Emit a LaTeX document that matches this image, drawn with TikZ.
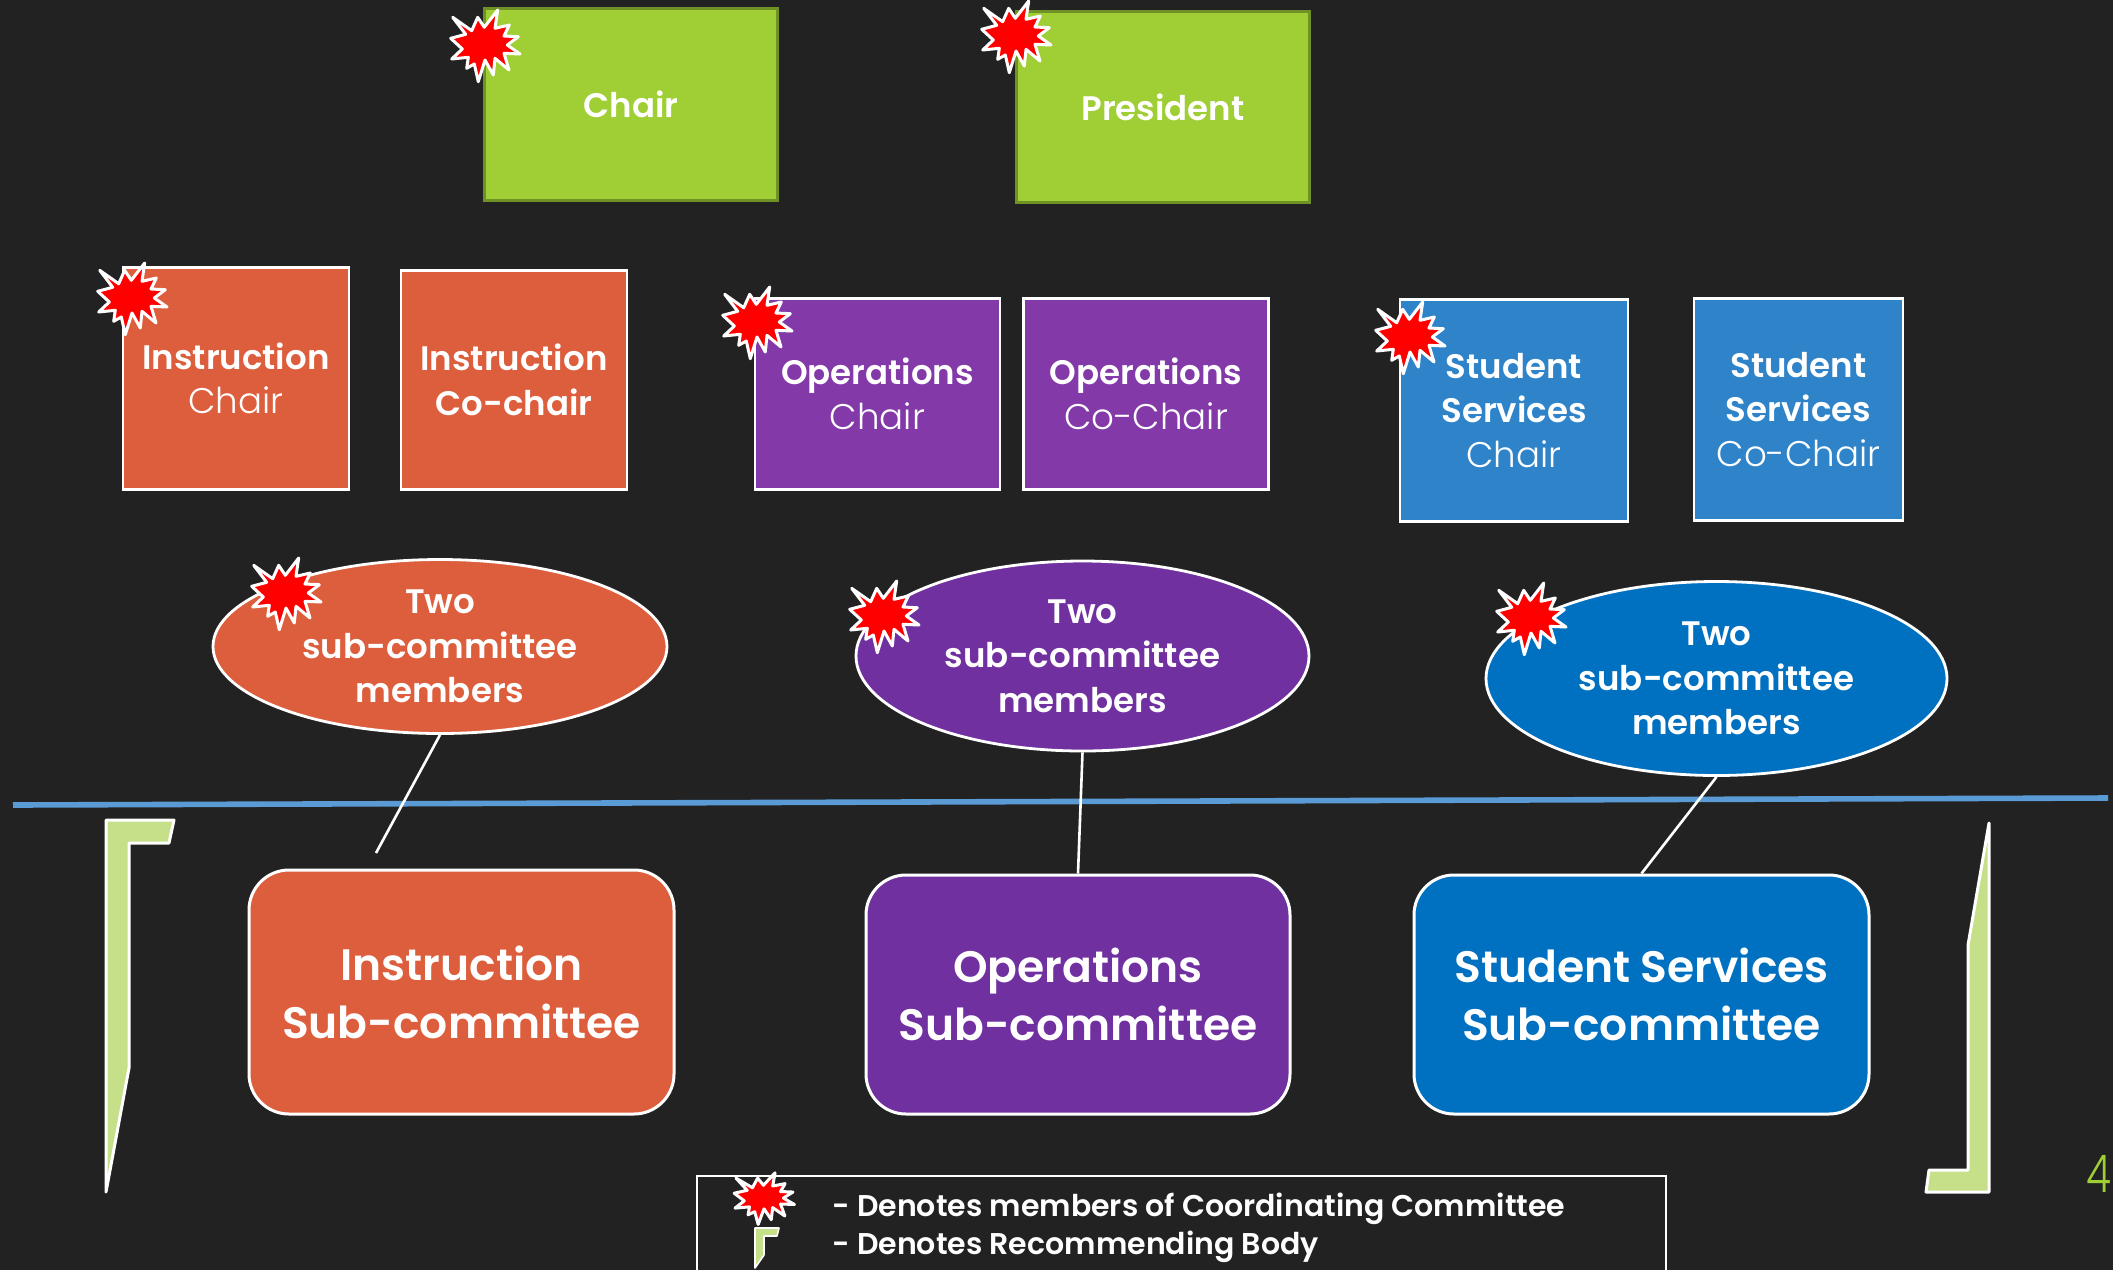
\documentclass[tikz,border=0pt]{standalone}
\usepackage{fontspec}
\setmainfont{Poppins Light}[BoldFont=Poppins SemiBold]
\definecolor{bg}{HTML}{222222}
\definecolor{org}{HTML}{DD5E3D}
\definecolor{purL}{HTML}{833AA8}
\definecolor{purD}{HTML}{7030A0}
\definecolor{bluL}{HTML}{2E83C9}
\definecolor{bluD}{HTML}{0070C0}
\definecolor{grn}{HTML}{A0CE35}
\definecolor{grnD}{HTML}{6F9125}
\definecolor{frameG}{HTML}{C6E08A}
\definecolor{rule}{HTML}{5B9BD5}
\newcommand{\fs}[2]{\fontsize{#1}{#2}\selectfont}
\newcommand{\lite}[1]{{\fontsize{17.8}{22.2}\selectfont #1}}
\tikzset{
  x=0.5pt,y=-0.5pt,
  txt/.style={text=white,align=center,inner sep=0pt,font=\fs{17}{22.2}},
  box/.style={txt,draw=white,line width=1.4pt},
  topbox/.style={txt,draw=grnD,line width=1.5pt,fill=grn,font=\fs{17}{22.2}\bfseries},
  oval/.style={box,ellipse},
  sub/.style={box,line width=1.5pt,rounded corners=20pt,font=\fs{22}{29}\bfseries},
  link/.style={draw=white,line width=1.3pt},
  halfframe/.style={draw=white,line width=1.5pt,fill=frameG,line join=round},
  burst/.style={draw=white,line width=1.5pt,fill=red,line join=round},
  pics/star/.style={code={
    \draw[burst] (12.7,-35)--(10,-16.7)--(24.3,-20)--(19,-9)--(33.3,-8.3)--(22.3,0)--(35,9)--(19,8.3)--(24,25)--(10,13.3)--(8.3,30)--(0,15)--(-6.7,36.7)--(-10.7,19)--(-18.3,23.3)--(-16.7,12.3)--(-33.3,14)--(-22.7,4)--(-34.3,-6.7)--(-19.3,-10.7)--(-32.3,-27.7)--(-13.3,-14.3)--(-7.3,-27.7)--(-.7,-17.7)--cycle;
  }}
}
\usetikzlibrary{shapes.geometric}
\begin{document}
\begin{tikzpicture}
\useasboundingbox (0,0) rectangle (2113,1270);
\clip (0,0) rectangle (2113,1270);
\fill[bg] (0,0) rectangle (2113,1270);

% top boxes
\node[topbox,minimum width=146.5pt,minimum height=96pt] (chair) at (631,104) {Chair};
\node[topbox,minimum width=146.5pt,minimum height=95.5pt] (president) at (1163,107) {President};

% chairs
\node[box,fill=org,minimum width=113pt,minimum height=111pt] (ichair) at (236,378.5) {\textbf{Instruction}\\\lite{Chair}};
\node[box,fill=org,minimum width=113pt,minimum height=109.5pt] (ico) at (514,380) {\textbf{Instruction}\\\textbf{Co-chair}};
\node[box,fill=purL,minimum width=122.5pt,minimum height=95.5pt] (ochair) at (877.5,394) {\textbf{Operations}\\\lite{Chair}};
\node[box,fill=purL,minimum width=122.5pt,minimum height=95.5pt] (oco) at (1146,394) {\textbf{Operations}\\\lite{Co-Chair}};
\node[box,fill=bluL,minimum width=114pt,minimum height=111pt] (schair) at (1514,410.5) {\textbf{Student}\\\textbf{Services}\\\lite{Chair}};
\node[box,fill=bluL,minimum width=104.5pt,minimum height=111pt] (sco) at (1798.5,409.5) {\textbf{Student}\\\textbf{Services}\\\lite{Co-Chair}};

% ovals
\node[oval,fill=org,minimum width=227pt,minimum height=87pt] (e1) at (440,646.5) {\textbf{Two}\\\textbf{sub-committee}\\\textbf{members}};
\node[oval,fill=purD,minimum width=226.5pt,minimum height=95pt] (e2) at (1082.5,656) {\textbf{Two}\\\textbf{sub-committee}\\\textbf{members}};
\node[oval,fill=bluD,minimum width=230.5pt,minimum height=97pt] (e3) at (1716.5,678.5) {\textbf{Two}\\\textbf{sub-committee}\\\textbf{members}};

% divider
\coordinate (ruleL) at (13,805);
\coordinate (ruleR) at (2108,798);
\draw[rule,line width=2.8pt] (ruleL) -- (ruleR);

% sub-committees
\node[sub,fill=org,minimum width=212.5pt,minimum height=122pt] (s1) at (461.5,992) {Instruction\\Sub-committee};
\node[sub,fill=purD,minimum width=212pt,minimum height=119.5pt] (s2) at (1078,994.5) {Operations\\Sub-committee};
\node[sub,fill=bluD,minimum width=227.5pt,minimum height=119.5pt] (s3) at (1641.5,994.5) {Student Services\\Sub-committee};

% connectors
\coordinate (e1end) at (376,853);
\draw[link] (e1.south) -- (e1end);
\draw[link] (e2.south) -- (s2.north);
\draw[link] (e3.south) -- (s3.north);

% recommending-body frames
\draw[halfframe] (106,820)--(174,820)--(169,843)--(129,843)--(129,1068)--(106,1192)--cycle;
\draw[halfframe] (1989,823)--(1968,945)--(1968,1170)--(1929,1170)--(1926,1192)--(1989,1192)--cycle;

% stars
\foreach \p in {(485,45),(1016,36),(132,298),(757,322),(1410,337),(286,593),(884,616),(1531,618)}
  \pic at \p {star};

% page number
\node[inner sep=0pt,text=grn,font=\fs{26}{30},anchor=base east] (page) at (2112,1192) {\scalebox{.78}[1]{4}};

% legend
\node[draw=white,line width=.8pt,minimum width=484.5pt,minimum height=100pt,inner sep=0pt,anchor=north west] (legend) at (696,1175) {};
\pic[xscale=.87,yscale=.72] at (764,1198) {star};
\draw[halfframe,line width=.8pt] (755,1228)--(779,1228)--(777,1236)--(764,1236)--(764,1255)--(755,1268)--cycle;
\node[txt,anchor=base west,font=\fs{15}{16}\bfseries] (l1) at (832,1216) {- Denotes members of Coordinating Committee};
\node[txt,anchor=base west,font=\fs{15}{16}\bfseries] (l2) at (832,1254) {- Denotes Recommending Body};
\end{tikzpicture}
\end{document}
